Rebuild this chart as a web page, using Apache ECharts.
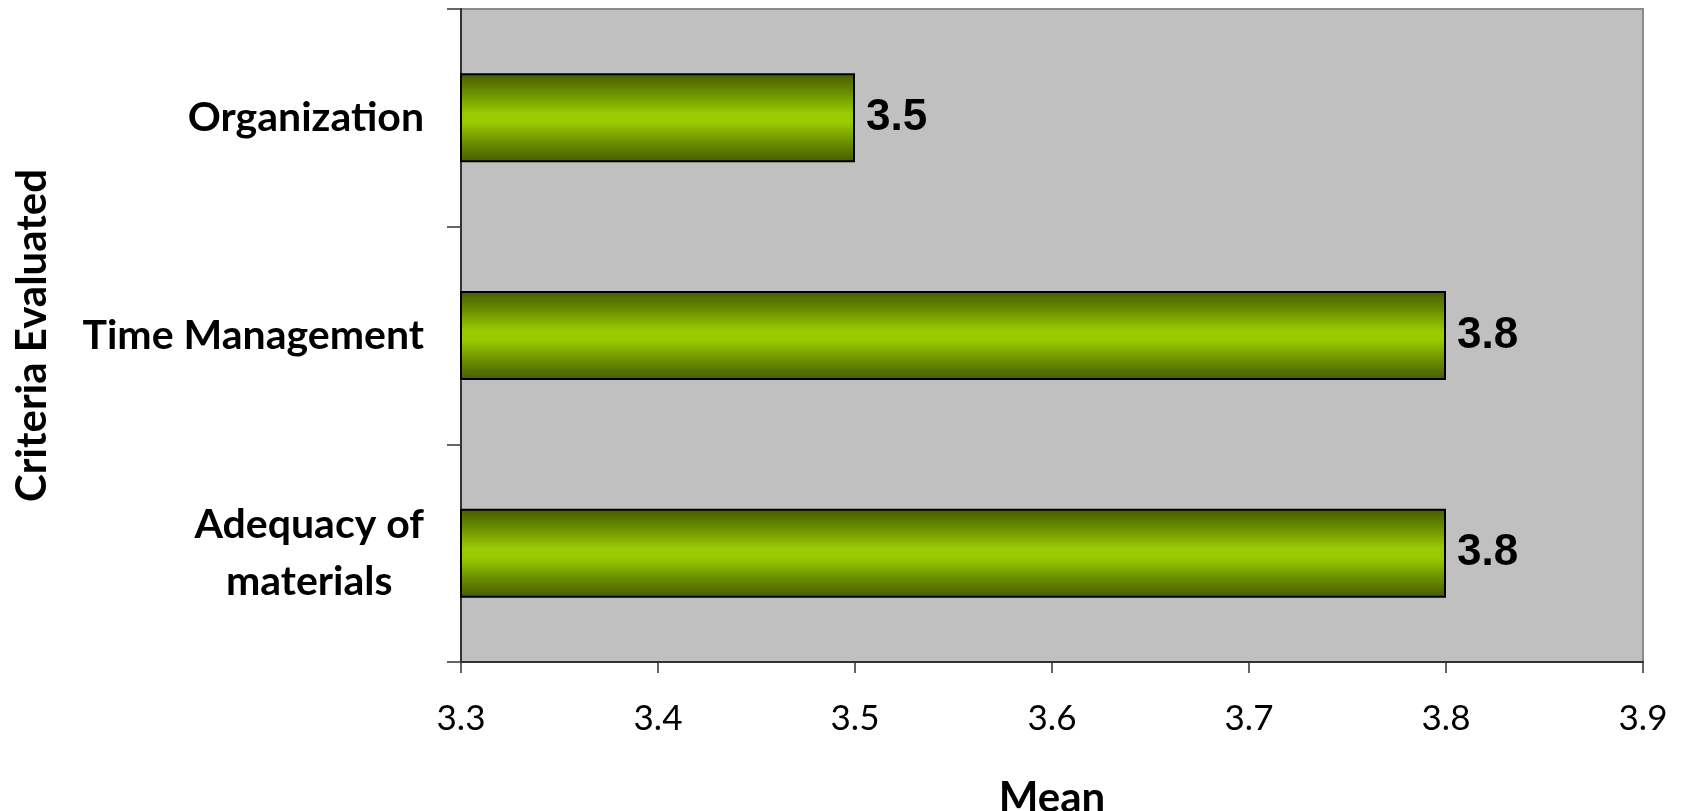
<!DOCTYPE html>
<html>
<head>
<meta charset="utf-8">
<title>Criteria Evaluated – Mean</title>
<script src="https://cdn.jsdelivr.net/npm/echarts@6/dist/echarts.min.js"></script>
<style>
  html, body { margin: 0; padding: 0; background: #ffffff; }
  #chart { width: 1683px; height: 811px; }
</style>
</head>
<body>
<div id="chart"></div>
<script>
// Criteria (top to bottom) and their mean scores
const categories = ['Organization', 'Time Management', 'Adequacy of\nmaterials'];
const means = [3.5, 3.8, 3.8];
// Value axis range and step
const axisMin = 3.3;
const axisMax = 3.9;
const axisStep = 0.1;

const labelFont = 'Lato, "Open Sans", "DejaVu Sans", sans-serif';

const chart = echarts.init(document.getElementById('chart'), null, { renderer: 'canvas' });

const barGradient = new echarts.graphic.LinearGradient(0, 0, 0, 1, [
  { offset: 0, color: '#465a00' },
  { offset: 0.22, color: '#6b8f00' },
  { offset: 0.45, color: '#99cc00' },
  { offset: 0.55, color: '#99cc00' },
  { offset: 0.78, color: '#6b8f00' },
  { offset: 1, color: '#465a00' }
]);

chart.setOption({
  animation: false,
  backgroundColor: '#ffffff',
  grid: {
    left: 461,
    right: 40,
    top: 9,
    bottom: 149,
    show: true,
    backgroundColor: '#c0c0c0',
    borderColor: '#8a8a8a',
    borderWidth: 2,
    containLabel: false,
    outerBoundsMode: 'none'
  },
  xAxis: {
    type: 'value',
    min: axisMin,
    max: axisMax,
    interval: axisStep,
    name: 'Mean',
    nameLocation: 'middle',
    nameGap: 115,
    nameTextStyle: { fontFamily: labelFont, fontWeight: 'bold', fontSize: 42, color: '#000' },
    axisLine: { show: true, lineStyle: { color: '#333', width: 2 } },
    axisTick: { show: true, length: 11, lineStyle: { color: '#333', width: 1.5 } },
    splitLine: { show: false },
    axisLabel: {
      margin: 39,
      fontFamily: labelFont,
      fontSize: 35,
      color: '#000',
      formatter: v => v.toFixed(1)
    }
  },
  yAxis: {
    type: 'category',
    inverse: true,
    data: categories,
    name: 'Criteria Evaluated',
    nameLocation: 'middle',
    nameGap: 408,
    nameTextStyle: { fontFamily: labelFont, fontWeight: 'bold', fontSize: 42, color: '#000' },
    axisLine: { show: true, lineStyle: { color: '#333', width: 2 } },
    axisTick: { show: true, length: 14, lineStyle: { color: '#333', width: 1.5 } },
    splitLine: { show: false },
    axisLabel: {
      margin: 37,
      align: 'right',
      color: '#000',
      fontFamily: labelFont,
      fontWeight: 'bold',
      fontSize: 41,
      lineHeight: 57,
      formatter: v => v.split('\n').map(line => '{c|' + line + '}').join('\n'),
      rich: {
        c: {
          align: 'center',
          fontFamily: labelFont,
          fontWeight: 'bold',
          fontSize: 41,
          lineHeight: 57,
          color: '#000'
        }
      }
    }
  },
  series: [{
    type: 'bar',
    data: means,
    barWidth: 89,
    itemStyle: {
      color: barGradient,
      borderColor: '#000',
      borderWidth: 2
    },
    label: {
      show: true,
      position: 'right',
      distance: 11,
      fontFamily: '"Liberation Sans", Arial, sans-serif',
      fontWeight: 'bold',
      fontSize: 44,
      color: '#000',
      formatter: p => p.value.toFixed(1)
    }
  }]
});
</script>
</body>
</html>
